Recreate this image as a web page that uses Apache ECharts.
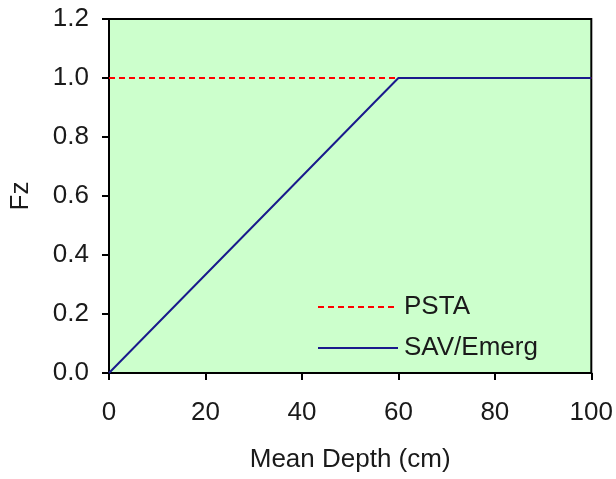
<!DOCTYPE html>
<html>
<head>
<meta charset="utf-8">
<script src="https://cdn.jsdelivr.net/npm/echarts@6/dist/echarts.min.js"></script>
<style>
  html, body { margin: 0; padding: 0; background: #fff; }
  #chart { width: 616px; height: 479px; }
</style>
</head>
<body>
<div id="chart"></div>
<script>
// depth (cm) vs Fz
const psta = [[0, 1.0], [100, 1.0]];
const savEmerg = [[0, 0], [15, 0.25], [35, 0.583], [55, 0.917], [60, 1.0], [100, 1.0]];
const xTicks = [0, 20, 40, 60, 80, 100];
const yTicks = [0, 0.2, 0.4, 0.6, 0.8, 1.0, 1.2];

const textColor = '#1a1a1a';
const font = 'Liberation Sans, Arial, sans-serif';

var myChart = echarts.init(document.getElementById('chart'));
myChart.setOption({
  animation: false,
  textStyle: { fontFamily: font },
  grid: {
    left: 109, right: 24, top: 19, bottom: 106,
    show: true,
    backgroundColor: '#CCFFCC',
    borderColor: '#000',
    borderWidth: 2
  },
  legend: {
    orient: 'vertical',
    left: 312,
    top: 289,
    itemWidth: 80,
    itemHeight: 14,
    itemGap: 15,
    itemStyle: { opacity: 0 },
    textStyle: { fontSize: 26, color: textColor, fontFamily: font, padding: [0, 0, 0, 1] },
    data: ['PSTA', 'SAV/Emerg']
  },
  xAxis: {
    type: 'value',
    min: xTicks[0],
    max: xTicks[xTicks.length - 1],
    interval: 20,
    name: 'Mean Depth (cm)',
    nameLocation: 'middle',
    nameGap: 74,
    nameTextStyle: { fontSize: 26, color: textColor, fontFamily: font },
    axisLine: { lineStyle: { color: '#000', width: 2 } },
    axisTick: { show: true, length: 7, lineStyle: { color: '#000', width: 2 } },
    axisLabel: { fontSize: 26, color: textColor, margin: 27 },
    splitLine: { show: false }
  },
  yAxis: {
    type: 'value',
    min: yTicks[0],
    max: yTicks[yTicks.length - 1],
    interval: 0.2,
    name: 'Fz',
    nameLocation: 'middle',
    nameGap: 75,
    nameTextStyle: { fontSize: 26, color: textColor, fontFamily: font },
    axisLine: { show: true, lineStyle: { color: '#000', width: 2 } },
    axisTick: { show: true, length: 7, lineStyle: { color: '#000', width: 2 } },
    axisLabel: { fontSize: 26, color: textColor, margin: 20, formatter: v => v.toFixed(1) },
    splitLine: { show: false }
  },
  series: [
    {
      name: 'PSTA',
      type: 'line',
      data: psta,
      symbol: 'none',
      z: 2,
      lineStyle: { color: '#FF0000', width: 2, type: [6, 4] },
      itemStyle: { color: '#FF0000' }
    },
    {
      name: 'SAV/Emerg',
      type: 'line',
      data: savEmerg,
      symbol: 'none',
      z: 3,
      lineStyle: { color: '#1A1A8C', width: 2 },
      itemStyle: { color: '#1A1A8C' }
    }
  ]
});
</script>
</body>
</html>
